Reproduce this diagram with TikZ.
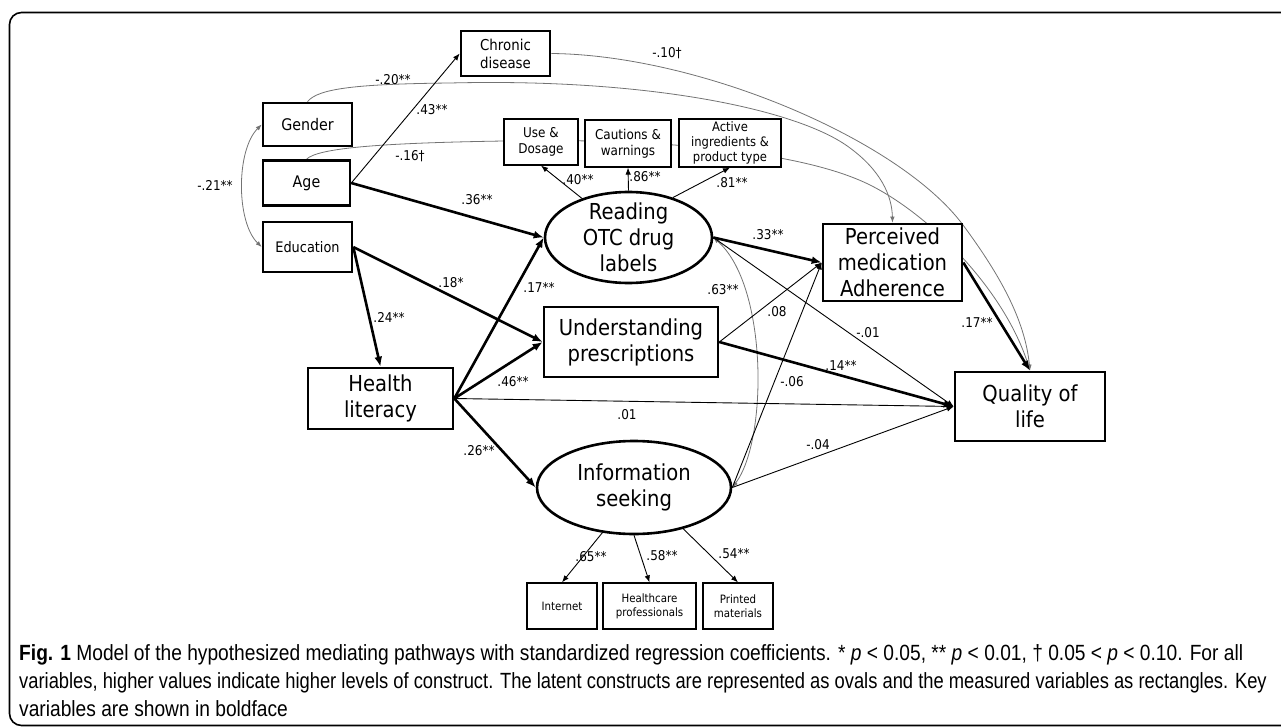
\documentclass[tikz,border=0pt]{standalone}
\usepackage{fontspec}
\setmainfont{DejaVu Sans}[FakeStretch=0.89]
\newfontfamily\capfont{Liberation Sans}[FakeStretch=0.872]
\newfontfamily\capfontb{Liberation Sans}[FakeStretch=0.834]
\usetikzlibrary{arrows.meta,shapes.geometric}
\pgfdeclarelayer{bg}
\pgfsetlayers{bg,main}
\tikzset{
  box/.style={draw, line width=2.6pt, fill=white, inner sep=0pt, align=center},
  sbox/.style={draw, line width=1.2pt, fill=white, inner sep=0pt, align=center},
  lat/.style={ellipse, draw, line width=2.6pt, fill=white, inner sep=0pt},
  big/.style={font=\fontsize{22}{26}\selectfont, align=center, inner sep=0pt},
  lbl/.style={font=\fontsize{13.5}{15}\selectfont, inner sep=0pt},
  thk/.style={line width=2.6pt, -{Latex[length=10pt,width=8pt]}},
  thn/.style={line width=0.9pt, -{Latex[length=7pt,width=5.5pt]}},
  crv/.style={line width=0.8pt, draw=black!55},
  crvtip/.style={-{Latex[length=6pt,width=4.5pt]}},
  captxt/.style={anchor=west, inner sep=0pt, font=\capfont\fontsize{22}{25}\selectfont}
}
\begin{document}
\begin{tikzpicture}[x=1pt,y=-1pt]
\useasboundingbox (0,0) rectangle (1281,727);
\draw[line width=1.6pt, rounded corners=12pt] (9.5,12.5) rectangle (1320,725.5);

% observed variables
\node[box, minimum width=89, minimum height=43, font=\fontsize{16}{19}\selectfont] (gen) at (307.5,124.5) {Gender};
\node[box, minimum width=87, minimum height=45, font=\fontsize{16}{19}\selectfont] (age) at (306.5,183) {Age};
\node[box, minimum width=89, minimum height=50, font=\fontsize{14.5}{17}\selectfont] (edu) at (307.5,247) {Education};
\node[box, minimum width=145, minimum height=61, big] (hl) at (380.5,398.5) {Health\\literacy};
\node[box, minimum width=89, minimum height=45, font=\fontsize{15}{18}\selectfont] (chr) at (505.5,53.5) {Chronic\\disease};
\node[sbox, minimum width=74, minimum height=46, font=\fontsize{13.5}{16}\selectfont] (use) at (541,142) {Use \&\\Dosage};
\node[sbox, minimum width=86, minimum height=47, font=\fontsize{13.5}{16}\selectfont] (cau) at (628,143.5) {Cautions \&\\warnings};
\node[sbox, minimum width=102, minimum height=48, font=\fontsize{13}{15}\selectfont] (act) at (730,143) {Active\\ingredients \&\\product type};
\node[box, minimum width=174, minimum height=70, big] (und) at (631,342) {Understanding\\prescriptions};
\node[box, minimum width=139, minimum height=77, big] (per) at (892.5,262.5) {Perceived\\medication\\Adherence};
\node[box, minimum width=150, minimum height=69, big] (qol) at (1030,406.5) {Quality of\\life};
\node[sbox, minimum width=70, minimum height=46, font=\fontsize{11.5}{14}\selectfont] (int) at (562,606) {Internet};
\node[sbox, minimum width=93, minimum height=46, font=\fontsize{11.5}{14}\selectfont] (hc) at (649.5,606) {Healthcare\\professionals};
\node[sbox, minimum width=70, minimum height=46, font=\fontsize{11.5}{14}\selectfont] (pr) at (738,606) {Printed\\materials};

% latent constructs
\node[lat, minimum width=167, minimum height=91] (read) at (628.5,237.5) {};
\node[big] (readtxt) at (read.center) {Reading\\OTC drug\\labels};
\node[lat, minimum width=194, minimum height=93] (info) at (634,487.5) {};
\node[big] (infotxt) at (info.center) {Information\\seeking};

% curved paths (behind boxes)
\begin{pgfonlayer}{bg}
\draw[crv, {Latex[length=6pt,width=4.5pt]}-{Latex[length=6pt,width=4.5pt]}] (gen.west) .. controls (236,150) and (236,222) .. (edu.west);
\draw[crv, crvtip] (gen.north) .. controls (318,88) and (360,84) .. (450,83) .. controls (650,78) and (800,110) .. (850,148) .. controls (880,170) and (892,195) .. (per.north);
\draw[crv, crvtip] (chr.east) .. controls (700,55) and (900,140) .. (963,225) .. controls (1000,275) and (1025,320) .. (qol.north);
\draw[crv, crvtip] (age.north) .. controls (318,148) and (380,143) .. (504,141) .. controls (650,138) and (800,150) .. (870,185) .. controls (930,215) and (1005,290) .. (qol.north);
\draw[crv, {Latex[length=6pt,width=4.5pt]}-{Latex[length=6pt,width=4.5pt]}] (read.east) .. controls (768,285) and (768,440) .. (info.east);
\end{pgfonlayer}

% straight paths
\draw[thn] (age.east) -- (chr.west);
\draw[thk] (age.east) -- (read.west);
\draw[thk] (edu.east) -- (hl.north);
\draw[thk] (edu.east) -- (und.west);
\draw[thk] (hl.east) -- (read.west);
\draw[thk] (hl.east) -- (und.west);
\draw[thn] (hl.east) -- (qol.west);
\draw[thk] (hl.east) -- (info.west);
\draw[thn] (read.140) -- (use.south);
\draw[thn] (read.north) -- (cau.south);
\draw[thn] (read.42) -- (act.south);
\draw[thk] (read.east) -- (per.west);
\draw[thn] (read.east) -- (qol.west);
\draw[thn] (und.east) -- (per.west);
\draw[thk] (und.east) -- (qol.west);
\draw[thn] (info.east) -- (per.west);
\draw[thn] (info.east) -- (qol.west);
\draw[thk] (per.east) -- (qol.north);
\draw[thn] (info.235) -- (int.north);
\draw[thn] (info.south) -- (hc.north);
\draw[thn] (info.320) -- (pr.north);

% coefficients
\node[lbl] (l1) at (215,185) {-.21**};
\node[lbl] (l2) at (393,80) {-.20**};
\node[lbl] (l3) at (432,110) {.43**};
\node[lbl] (l4) at (410,156) {-.16†};
\node[lbl] (l5) at (667,53) {-.10†};
\node[lbl] (l6) at (477,200) {.36**};
\node[lbl] (l7) at (578,180) {.40**};
\node[lbl] (l8) at (645,177) {.86**};
\node[lbl] (l9) at (732,183) {.81**};
\node[lbl] (l10) at (768,235) {.33**};
\node[lbl] (l11) at (451,283) {.18*};
\node[lbl] (l12) at (389,317) {.24**};
\node[lbl] (l13) at (539,287) {.17**};
\node[lbl] (l14) at (723,290) {.63**};
\node[lbl] (l15) at (777,312) {.08};
\node[lbl] (l16) at (868,333) {-.01};
\node[lbl] (l17) at (977,322) {.17**};
\node[lbl] (l18) at (841,365) {.14**};
\node[lbl] (l19) at (513,382) {.46**};
\node[lbl] (l20) at (792,382) {-.06};
\node[lbl] (l21) at (627,415) {.01};
\node[lbl] (l22) at (818,445) {-.04};
\node[lbl] (l23) at (479,451) {.26**};
\node[lbl] (l24) at (591,557) {.65**};
\node[lbl] (l25) at (662,556) {.58**};
\node[lbl] (l26) at (734,554) {.54**};

% caption
\node[captxt] (cap1) at (19,655) {\textbf{Fig. 1} Model of the hypothesized mediating pathways with standardized regression coefficients. * \textit{p} < 0.05, ** \textit{p} < 0.01, † 0.05 < \textit{p} < 0.10. For all};
\node[captxt, font=\capfontb\fontsize{22}{25}\selectfont] (cap2) at (19,683) {variables, higher values indicate higher levels of construct. The latent constructs are represented as ovals and the measured variables as rectangles. Key};
\node[captxt] (cap3) at (19,709) {variables are shown in boldface};
\end{tikzpicture}
\end{document}
